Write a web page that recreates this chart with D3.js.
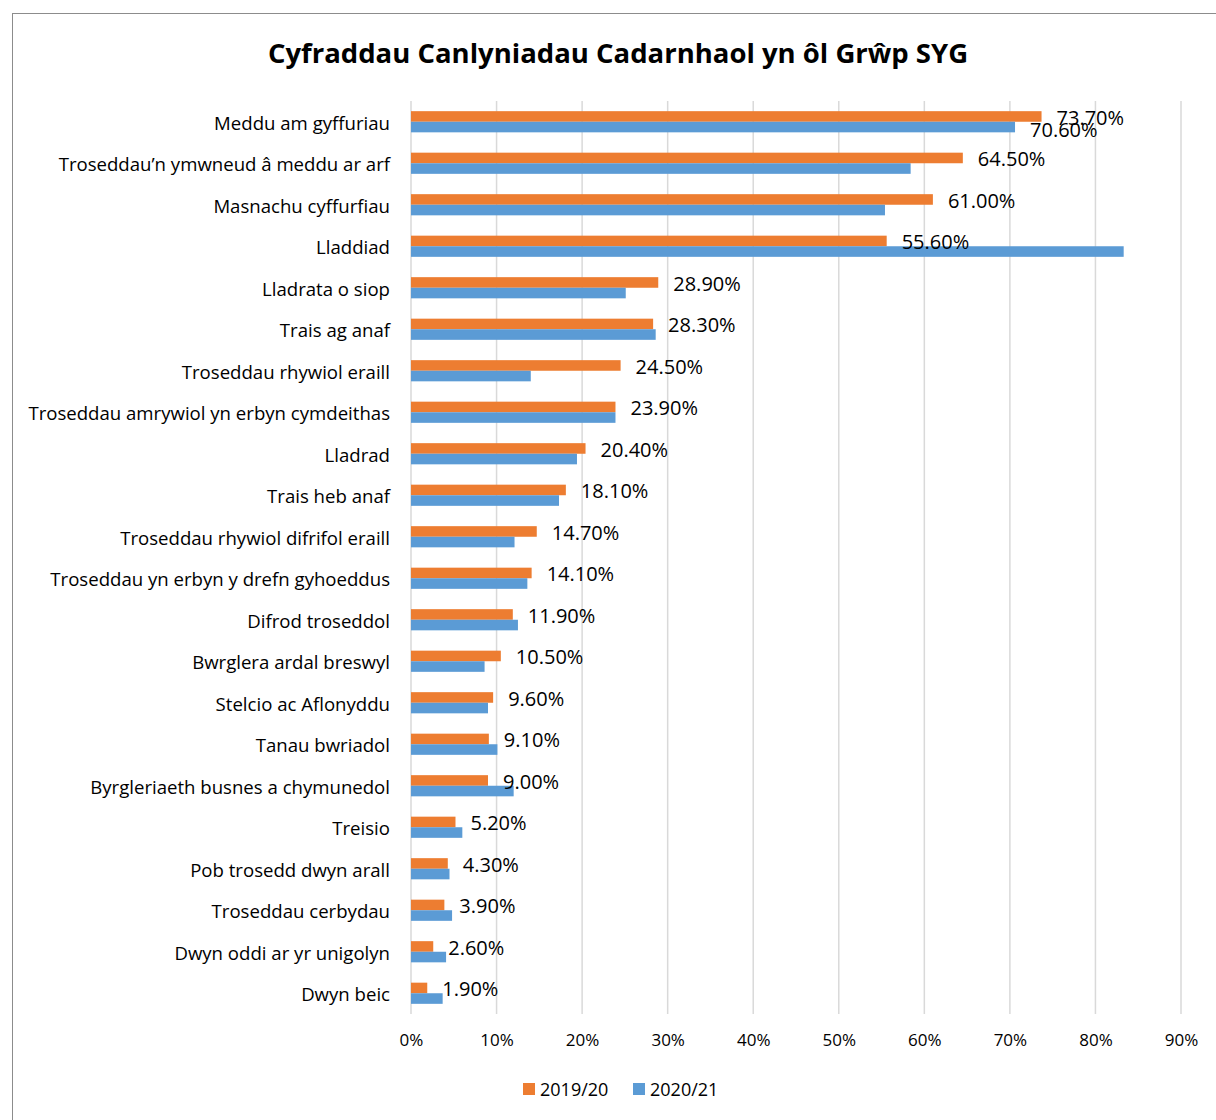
<!DOCTYPE html>
<html>
<head>
<meta charset="utf-8">
<script src="https://cdn.jsdelivr.net/npm/d3@7"></script>
<style>
  body { margin: 0; background: #fff; }
  svg { display: block; font-family: "Open Sans", "Liberation Sans", sans-serif; }
</style>
</head>
<body>
<div id="chart"></div>
<script>
// categories, top to bottom
const categories = [
  "Meddu am gyffuriau",
  "Troseddau\u2019n ymwneud \u00e2 meddu ar arf",
  "Masnachu cyffurfiau",
  "Lladdiad",
  "Lladrata o siop",
  "Trais ag anaf",
  "Troseddau rhywiol eraill",
  "Troseddau amrywiol yn erbyn cymdeithas",
  "Lladrad",
  "Trais heb anaf",
  "Troseddau rhywiol difrifol eraill",
  "Troseddau yn erbyn y drefn gyhoeddus",
  "Difrod troseddol",
  "Bwrglera ardal breswyl",
  "Stelcio ac Aflonyddu",
  "Tanau bwriadol",
  "Byrgleriaeth busnes a chymunedol",
  "Treisio",
  "Pob trosedd dwyn arall",
  "Troseddau cerbydau",
  "Dwyn oddi ar yr unigolyn",
  "Dwyn beic"
];

const seriesNames = ["2019/20", "2020/21"];
const colors = ["#ED7D31", "#5B9BD5"];

// values in %
const values1920 = [73.7, 64.5, 61.0, 55.6, 28.9, 28.3, 24.5, 23.9, 20.4, 18.1, 14.7, 14.1, 11.9, 10.5, 9.6, 9.1, 9.0, 5.2, 4.3, 3.9, 2.6, 1.9];
const values2021 = [70.6, 58.4, 55.4, 83.3, 25.1, 28.6, 14.0, 23.9, 19.4, 17.3, 12.1, 13.6, 12.5, 8.6, 9.0, 10.1, 12.0, 6.0, 4.5, 4.8, 4.1, 3.7];

// only the first blue bar carries a visible label in the original
const labelled2021 = ["Meddu am gyffuriau"];

const xTicks = [0, 10, 20, 30, 40, 50, 60, 70, 80, 90];

const title = "Cyfraddau Canlyniadau Cadarnhaol yn \u00f4l Gr\u0175p SYG";

const W = 1216, H = 1120;
const margin = { top: 101, right: 35, bottom: 106, left: 411 };
const width = W - margin.left - margin.right;
const height = H - margin.top - margin.bottom;

const svg = d3.select("#chart").append("svg")
  .attr("width", W)
  .attr("height", H);

// chart frame
svg.append("rect")
  .attr("x", 12.5).attr("y", 13.5)
  .attr("width", 1300).attr("height", 1300)
  .attr("fill", "none")
  .attr("stroke", "#8c8c8c")
  .attr("stroke-width", 1);

svg.append("text")
  .attr("x", 618).attr("y", 63)
  .attr("text-anchor", "middle")
  .style("font-size", "27.5px")
  .style("font-weight", "bold")
  .attr("fill", "#000")
  .text(title);

const g = svg.append("g")
  .attr("transform", "translate(" + margin.left + "," + margin.top + ")");

const x = d3.scaleLinear().domain([0, 90]).range([0, width]);

const y = d3.scaleBand().domain(categories).range([0, height]).paddingInner(0).paddingOuter(0);

const bandInner = d3.scaleBand().domain(seriesNames)
  .range([y.bandwidth() * 0.245, y.bandwidth() * 0.755]);

// gridlines
g.selectAll("line.grid")
  .data(xTicks)
  .enter().append("line")
  .attr("class", "grid")
  .attr("x1", d => x(d)).attr("x2", d => x(d))
  .attr("y1", 0).attr("y2", height)
  .attr("stroke", "#d9d9d9")
  .attr("stroke-width", 1.5);

// x axis labels
const xAxis = g.append("g")
  .attr("transform", "translate(0," + height + ")")
  .call(d3.axisBottom(x).tickValues(xTicks).tickFormat(d => d + "%").tickSize(0).tickPadding(20));
xAxis.select(".domain").remove();
xAxis.selectAll("text")
  .style("font-size", "17px")
  .style("font-family", "'Open Sans', 'Liberation Sans', sans-serif")
  .attr("fill", "#000");

// category labels
const yAxis = g.append("g")
  .call(d3.axisLeft(y).tickSize(0).tickPadding(21));
yAxis.select(".domain").remove();
yAxis.selectAll("text")
  .style("font-size", "18.6px")
  .style("font-family", "'Open Sans', 'Liberation Sans', sans-serif")
  .attr("fill", "#000")
  .attr("dy", "0.42em");

const rows = categories.map((c, i) => ({ cat: c, v: [values1920[i], values2021[i]] }));

const groups = g.selectAll("g.row")
  .data(rows)
  .enter().append("g")
  .attr("class", "row")
  .attr("transform", d => "translate(0," + y(d.cat) + ")");

groups.selectAll("rect")
  .data(d => d.v.map((v, i) => ({ key: seriesNames[i], v: v, i: i })))
  .enter().append("rect")
  .attr("x", x(0))
  .attr("y", d => bandInner(d.key))
  .attr("width", d => x(d.v) - x(0))
  .attr("height", bandInner.bandwidth())
  .attr("fill", d => colors[d.i]);

// value labels for 2019/20
groups.append("text")
  .attr("x", d => x(d.v[0]) + 15)
  .attr("y", d => bandInner(seriesNames[0]) + bandInner.bandwidth() / 2)
  .attr("dy", "0.42em")
  .style("font-size", "20px")
  .attr("fill", "#000")
  .text(d => d.v[0].toFixed(2) + "%");

// value labels for 2020/21 where shown
groups.filter(d => labelled2021.includes(d.cat))
  .append("text")
  .attr("x", d => x(d.v[1]) + 15)
  .attr("y", d => bandInner(seriesNames[1]) + bandInner.bandwidth() / 2)
  .attr("dy", "0.5em")
  .style("font-size", "20px")
  .attr("fill", "#000")
  .text(d => d.v[1].toFixed(2) + "%");

// legend
const legend = svg.selectAll("g.legend")
  .data(seriesNames)
  .enter().append("g")
  .attr("class", "legend")
  .attr("transform", (d, i) => "translate(" + (523 + i * 110) + ",1083)");

legend.append("rect")
  .attr("width", 12).attr("height", 12)
  .attr("fill", (d, i) => colors[i]);

legend.append("text")
  .attr("x", 17).attr("y", 6)
  .attr("dy", "0.38em")
  .style("font-size", "18px")
  .attr("fill", "#000")
  .text(d => d);
</script>
</body>
</html>
